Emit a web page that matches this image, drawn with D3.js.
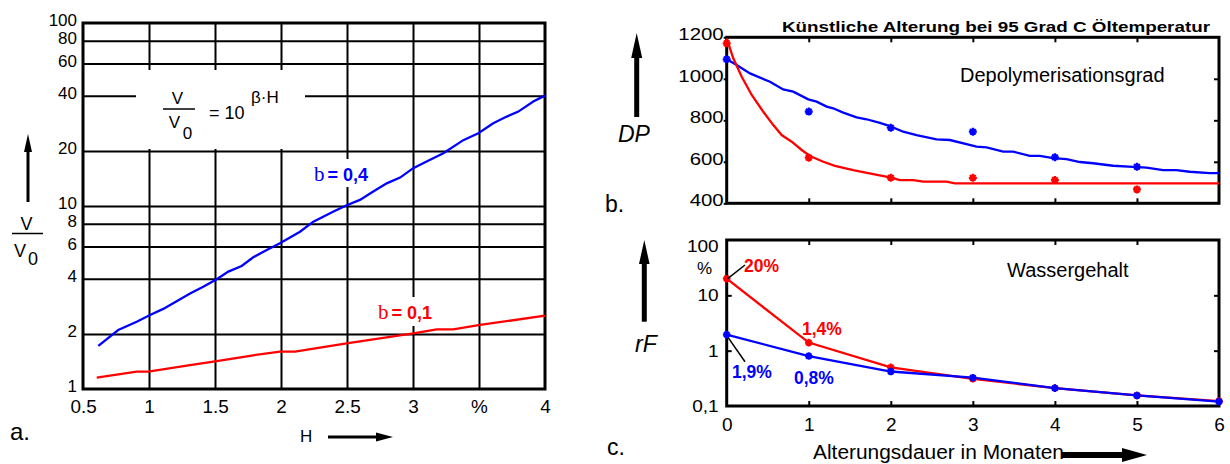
<!DOCTYPE html>
<html><head><meta charset="utf-8">
<script src="https://cdn.jsdelivr.net/npm/d3@7"></script>
<style>
body{margin:0;background:#fff}
svg{display:block;font-family:"Liberation Sans",Arial,sans-serif}
</style></head><body>
<svg id="chart" width="1230" height="464"></svg>
<script>
// ---------- data: chart a ----------
const aBlueH = [0.616,0.767,0.907,1.008,1.108,1.311,1.411,1.513,1.601,1.702,1.790,1.892,1.992,2.144,2.245,2.394,2.498,2.598,2.699,2.801,2.902,3.002,3.103,3.23,3.381,3.495,3.608,3.71,3.798,3.911,4.0];
const aBlueV = [1.72,2.10,2.33,2.54,2.74,3.33,3.62,3.98,4.38,4.70,5.25,5.75,6.25,7.24,8.21,9.31,10.1,10.8,12.0,13.3,14.3,16.1,17.5,19.4,22.9,25.0,28.3,30.8,32.8,37.2,40.1];
const aRedH = [0.604,0.907,0.995,1.311,1.513,1.790,1.992,2.106,2.497,3.002,3.18,3.305,3.508,4.0];
const aRedV = [1.153,1.243,1.243,1.352,1.422,1.528,1.599,1.599,1.777,2.015,2.12,2.12,2.238,2.515];
const aXTicks = [0.5,1,1.5,2,2.5,3,3.5,4];
const aXTickLabels = ["0.5","1","1.5","2","2.5","3","%","4"];
const aYTicks = [1,2,4,6,8,10,20,40,60,80,100];

// ---------- data: chart b ----------
const bBlueM = [0,0.122,0.284,0.527,0.689,0.811,0.994,1.096,1.218,1.298,1.42,1.583,1.705,1.867,1.989,2.151,2.314,2.558,2.72,3.045,3.167,3.369,3.491,3.694,3.816,3.978,4.141,4.305,4.465,4.709,4.952,5.116,5.318,5.481,5.643,5.887,6.0];
const bBlueDP = [1094,1066,1026,986,949,938,901,890,866,858,837,814,805,788,772,745,729,708,705,673,670,649,649,629,629,618,613,599,593,581,576,572,560,560,552,545,545];
const bRedM = [0,0.08,0.183,0.305,0.446,0.568,0.67,0.792,0.914,1.015,1.177,1.319,1.542,1.786,1.989,2.111,2.273,2.395,2.68,2.781,6];
const bRedDP = [1195,1099,1010,922,841,777,729,697,657,628,600,580,560,541,525,512,512,504,504,496,496];
const bMarkMonths = [0,1,2,3,4,5];
const bMarkBlue = [1094,842,764,745,622,576];
const bMarkRed = [1171,620,523,523,512,467];
const bYTicks = [400,600,800,1000,1200];
const bTitle = "Künstliche Alterung bei 95 Grad C Öltemperatur";

// ---------- data: chart c ----------
const cMonths = [0,1,2,3,4,5,6];
const cRed = [20,1.4,0.5,0.31,0.21,0.155,0.123];
const cBlue = [1.95,0.8,0.42,0.325,0.21,0.155,0.12];
const cYTicks = [0.1,1,10,100];
const cYTickLabels = ["0,1","1","10","100"];
const monthTicks = [0,1,2,3,4,5,6];

const FONT = '"Liberation Sans", Arial, sans-serif';
const BLUE = "#0000ff", RED = "#ff0000";
const svg = d3.select("#chart");
const zip = (a,b) => a.map((v,i)=>[v,b[i]]);

function styleAxis(g, size){
  g.attr("font-family", FONT).attr("font-size", size);
  g.select(".domain").remove();
  g.selectAll("line").attr("stroke","#000");
  g.selectAll("text").attr("fill","#000");
}
function widen(sel, k){
  sel.each(function(){
    const L = this.getComputedTextLength();
    d3.select(this).attr("textLength", L*k).attr("lengthAdjust","spacingAndGlyphs");
  });
}
function arrow(g, pts, shaft, w){
  g.append("line").attr("x1",shaft[0]).attr("y1",shaft[1]).attr("x2",shaft[2]).attr("y2",shaft[3])
    .attr("stroke","#000").attr("stroke-width",w);
  g.append("path").attr("d","M"+pts.map(p=>p.join(",")).join("L")+"Z").attr("fill","#000");
}
function star(g, x, y, color, s){
  const d = `M${x-s},${y}h${2*s}M${x},${y-s}v${2*s}M${x-s*0.7},${y-s*0.7}l${1.4*s},${1.4*s}M${x-s*0.7},${y+s*0.7}l${1.4*s},${-1.4*s}`;
  g.append("path").attr("d",d).attr("stroke",color).attr("stroke-width",2.2).attr("fill","none");
}

// =============== chart a ===============
const xA = d3.scaleLinear().domain([0.5,4]).range([83,545]);
const yA = d3.scaleLog().domain([1,100]).range([389,23]);
const gA = svg.append("g");

gA.append("g").attr("transform","translate(0,389)")
  .call(d3.axisBottom(xA).tickValues(aXTicks.slice(1,-1)).tickSize(-(389-23)).tickFormat(""))
  .call(g=>{styleAxis(g,17); g.selectAll("line").attr("stroke-width",2);});
gA.append("g").attr("transform","translate(83,0)")
  .call(d3.axisLeft(yA).tickValues(aYTicks.slice(1,-1)).tickSize(-(545-83)).tickFormat(""))
  .call(g=>{styleAxis(g,17); g.selectAll("line").attr("stroke-width",2);});

// white label boxes over the grid
gA.append("rect").attr("x",136).attr("y",70).attr("width",169).attr("height",79).attr("fill","#fff");
gA.append("rect").attr("x",312).attr("y",159).attr("width",64).attr("height",28).attr("fill","#fff");
gA.append("rect").attr("x",376).attr("y",297).attr("width",60).attr("height",29).attr("fill","#fff");

gA.append("rect").attr("x",83).attr("y",23).attr("width",462).attr("height",366)
  .attr("fill","none").attr("stroke","#000").attr("stroke-width",3);

// tick labels
gA.append("g").attr("transform","translate(83,0)")
  .call(d3.axisLeft(yA).tickValues(aYTicks).tickSize(0).tickPadding(6).tickFormat(d3.format("d")))
  .call(g=>{styleAxis(g,17); g.selectAll("text").attr("dy","0.15em");});
gA.append("g").attr("transform","translate(0,389)")
  .call(d3.axisBottom(xA).tickValues(aXTicks).tickSize(0).tickPadding(12).tickFormat((d,i)=>aXTickLabels[i]))
  .call(g=>{styleAxis(g,17.5); widen(g.selectAll("text"),1.08);});

const lineA = d3.line().x(d=>xA(d[0])).y(d=>yA(d[1]));
gA.append("path").datum(zip(aBlueH,aBlueV)).attr("d",lineA).attr("fill","none").attr("stroke",BLUE).attr("stroke-width",2.3);
gA.append("path").datum(zip(aRedH,aRedV)).attr("d",lineA).attr("fill","none").attr("stroke",RED).attr("stroke-width",2.3);

// curve labels
function bLabel(x,y,txt,color){
  const t = gA.append("text").attr("x",x).attr("y",y).attr("fill",color);
  t.append("tspan").attr("font-family",'"Liberation Serif", "Times New Roman", serif').attr("font-size",21).text("b");
  t.append("tspan").attr("dx",3).attr("font-family",FONT).attr("font-weight","bold").attr("font-size",18).text("= "+txt);
}
bLabel(314,181,"0,4",BLUE);
bLabel(378,319,"0,1",RED);

// formula
const fT = (x,y,s,txt,anchor,size)=>gA.append("text").attr("x",x).attr("y",y).attr("font-size",size||17)
  .attr("text-anchor",anchor||"start").attr("font-family",FONT).text(txt);
fT(177.5,103.5,17,"V","middle");
gA.append("line").attr("x1",163).attr("x2",195).attr("y1",109).attr("y2",109).attr("stroke","#000").attr("stroke-width",1.5);
fT(174.5,128,17,"V","middle");
fT(187.5,139,17,"0","middle");
fT(209,119,17,"= 10","start",18);
fT(251,103,17,"β·H","start",17);

// y axis label V/V0 and arrow
fT(26.5,230,18,"V","middle",18);
gA.append("line").attr("x1",12).attr("x2",43).attr("y1",233.5).attr("y2",233.5).attr("stroke","#000").attr("stroke-width",1.5);
fT(20,257,18,"V","middle",18);
fT(33,265,18,"0","middle",18);
arrow(gA, [[28,134],[24,152],[32,152]], [28,202,28,148], 3);

fT(10,440,24,"a.","start",24);
fT(300,442,17,"H","start",17);
arrow(gA, [[393,437],[376,432.5],[376,441.5]], [328,437,380,437], 3);

// =============== chart b ===============
const xB = d3.scaleLinear().domain([0,6]).range([726.7,1219]);
const yB = d3.scaleLinear().domain([400,1200]).range([203.3,37.3]);
const gB = svg.append("g");

gB.append("g").attr("transform","translate(0,203.3)")
  .call(d3.axisBottom(xB).tickValues([1,2,3,4,5]).tickSize(-5).tickFormat("")).call(g=>{styleAxis(g,17); g.selectAll("line").attr("stroke-width",2);});
gB.append("g").attr("transform","translate(0,37.3)")
  .call(d3.axisTop(xB).tickValues([1,2,3,4,5]).tickSize(-5).tickFormat("")).call(g=>{styleAxis(g,17); g.selectAll("line").attr("stroke-width",2);});
gB.append("g").attr("transform","translate(1219,0)")
  .call(d3.axisRight(yB).tickValues([600,800,1000]).tickSize(-5).tickFormat("")).call(g=>{styleAxis(g,17); g.selectAll("line").attr("stroke-width",2);});
gB.append("g").attr("transform","translate(726.7,0)")
  .call(d3.axisLeft(yB).tickValues(bYTicks).tickSize(3).tickPadding(0).tickFormat(d3.format("d")))
  .call(g=>{styleAxis(g,17); g.selectAll("line").attr("stroke-width",2); g.selectAll("text").attr("dy","0.15em"); widen(g.selectAll("text"),1.2);});

gB.append("rect").attr("x",726.7).attr("y",37.3).attr("width",1219-726.7).attr("height",203.3-37.3)
  .attr("fill","none").attr("stroke","#000").attr("stroke-width",3);

const lineB = d3.line().x(d=>xB(d[0])).y(d=>yB(d[1]));
gB.append("path").datum(zip(bBlueM,bBlueDP)).attr("d",lineB).attr("fill","none").attr("stroke",BLUE).attr("stroke-width",2.3);
gB.append("path").datum(zip(bRedM,bRedDP)).attr("d",lineB).attr("fill","none").attr("stroke",RED).attr("stroke-width",2.3);
bMarkMonths.forEach((m,i)=>{
  star(gB, xB(m), yB(bMarkBlue[i]), BLUE, 4);
  star(gB, xB(m), yB(bMarkRed[i]), RED, 4);
});

gB.append("text").attr("x",782).attr("y",31.5).attr("font-family",FONT).attr("font-weight","bold")
  .attr("font-size",15).attr("textLength",428).attr("lengthAdjust","spacingAndGlyphs").text(bTitle);
gB.append("text").attr("x",960).attr("y",82).attr("font-family",FONT).attr("font-size",20).text("Depolymerisationsgrad");
gB.append("text").attr("x",605).attr("y",212).attr("font-family",FONT).attr("font-size",23).text("b.");
gB.append("text").attr("x",618).attr("y",141.5).attr("font-family",FONT).attr("font-style","italic").attr("font-size",23).text("DP");
arrow(gB, [[636.7,33],[631.2,58],[642.2,58]], [636.7,117,636.7,55], 5);

// =============== chart c ===============
const xC = d3.scaleLinear().domain([0,6]).range([726.7,1219]);
const yC = d3.scaleLog().domain([0.1,100]).range([406,240]);
const gC = svg.append("g");

gC.append("g").attr("transform","translate(0,406)")
  .call(d3.axisBottom(xC).tickValues([1,2,3,4,5]).tickSize(-5).tickFormat("")).call(g=>{styleAxis(g,17); g.selectAll("line").attr("stroke-width",2);});
gC.append("g").attr("transform","translate(0,240)")
  .call(d3.axisTop(xC).tickValues([1,2,3,4,5]).tickSize(-5).tickFormat("")).call(g=>{styleAxis(g,17); g.selectAll("line").attr("stroke-width",2);});
gC.append("g").attr("transform","translate(1219,0)")
  .call(d3.axisRight(yC).tickValues([1,10]).tickSize(-5).tickFormat("")).call(g=>{styleAxis(g,17); g.selectAll("line").attr("stroke-width",2);});
gC.append("g").attr("transform","translate(726.7,0)")
  .call(d3.axisLeft(yC).tickValues([1,10]).tickSize(-5).tickFormat("")).call(g=>{styleAxis(g,17); g.selectAll("line").attr("stroke-width",2);});
gC.append("g").attr("transform","translate(726.7,0)")
  .call(d3.axisLeft(yC).tickValues(cYTicks).tickSize(0).tickPadding(8).tickFormat((d,i)=>cYTickLabels[i]))
  .call(g=>{styleAxis(g,17); g.selectAll("text").filter(d=>d===100).attr("dy","0.65em"); widen(g.selectAll("text"),1.12);});
gC.append("text").attr("x",712).attr("y",274).attr("text-anchor","end").attr("font-family",FONT).attr("font-size",17).text("%");
gC.append("g").attr("transform","translate(0,406)")
  .call(d3.axisBottom(xC).tickValues(monthTicks).tickSize(0).tickPadding(12).tickFormat(d3.format("d")))
  .call(g=>styleAxis(g,19));

gC.append("rect").attr("x",726.7).attr("y",240).attr("width",1219-726.7).attr("height",166)
  .attr("fill","none").attr("stroke","#000").attr("stroke-width",3);

const lineC = d3.line().x(d=>xC(d[0])).y(d=>yC(d[1]));
gC.append("path").datum(zip(cMonths,cRed)).attr("d",lineC).attr("fill","none").attr("stroke",RED).attr("stroke-width",2.3);
gC.append("path").datum(zip(cMonths,cBlue)).attr("d",lineC).attr("fill","none").attr("stroke",BLUE).attr("stroke-width",2.3);
cMonths.forEach((m,i)=>{
  star(gC, xC(m), yC(cRed[i]), RED, 3.8);
  star(gC, xC(m), yC(cBlue[i]), BLUE, 3.8);
});

// annotations
gC.append("line").attr("x1",xC(0)+1).attr("y1",yC(cRed[0])).attr("x2",745).attr("y2",265).attr("stroke","#000").attr("stroke-width",1.5);
gC.append("line").attr("x1",xC(0)+1.5).attr("y1",yC(cBlue[0])+3).attr("x2",745).attr("y2",361.7).attr("stroke","#000").attr("stroke-width",1.5);
const ann = (x,y,txt,color)=>gC.append("text").attr("x",x).attr("y",y).attr("fill",color).attr("font-family",FONT)
  .attr("font-weight","bold").attr("font-size",17.5).text(txt);
ann(744,271.5,"20%",RED);
ann(802,335,"1,4%",RED);
ann(732,378,"1,9%",BLUE);
ann(794,384,"0,8%",BLUE);

gC.append("text").attr("x",1007).attr("y",276.5).attr("font-family",FONT).attr("font-size",20).text("Wassergehalt");
gC.append("text").attr("x",813).attr("y",459).attr("font-family",FONT).attr("font-size",19.5)
  .attr("textLength",251).attr("lengthAdjust","spacingAndGlyphs").text("Alterungsdauer in Monaten");
gC.append("text").attr("x",607).attr("y",455).attr("font-family",FONT).attr("font-size",23).text("c.");
gC.append("text").attr("x",635).attr("y",352).attr("font-family",FONT).attr("font-style","italic").attr("font-size",23).text("rF");
arrow(gC, [[644.3,240],[639,264],[649.6,264]], [644.3,321.7,644.3,260], 5);
arrow(gC, [[1147,455],[1122,448],[1122,462]], [1062,455,1124,455], 6);
</script>
</body></html>
